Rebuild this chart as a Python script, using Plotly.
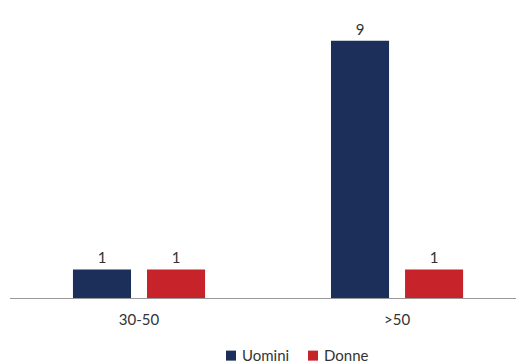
import plotly.graph_objects as go

categories = ["30-50", ">50"]
series_names = ["Uomini", "Donne"]
uomini = [1, 9]
donne = [1, 1]
colors = ["#1c2f5b", "#c6232a"]

font_family = "Lato, 'Open Sans', sans-serif"
text_color = "#333333"

fig = go.Figure()
for name, values, color in zip(series_names, [uomini, donne], colors):
    fig.add_trace(go.Bar(
        name=name, x=categories, y=values,
        marker=dict(color=color, line=dict(width=0)),
        text=[str(v) for v in values], textposition="outside",
        textfont=dict(size=15, color=text_color, family=font_family),
        cliponaxis=False, showlegend=False,
    ))

# Legend drawn below the axis: small colour square followed by the series name
legend_x = [0.4269, 0.5889]  # left edge of each square, paper fraction
for name, color, lx in zip(series_names, colors, legend_x):
    fig.add_shape(type="rect", xref="paper", yref="paper",
                  x0=lx, x1=lx + 10 / 506, y0=-0.219, y1=-0.184,
                  fillcolor=color, line=dict(width=0))
    fig.add_annotation(xref="paper", yref="paper", x=lx + 14 / 506, y=-0.201,
                       xanchor="left", yanchor="middle", text=name,
                       showarrow=False,
                       font=dict(size=15, color=text_color, family=font_family))

fig.update_layout(
    width=516, height=363,
    margin=dict(l=10, r=0, t=12, b=65, autoexpand=False),
    paper_bgcolor="white", plot_bgcolor="white",
    barmode="group", bargap=0.426, bargroupgap=0.216,
    font=dict(family=font_family, size=15, color=text_color),
    showlegend=False,
    xaxis=dict(range=[-0.5, 1.461], showgrid=False, showline=True,
               linecolor="#999999", linewidth=1, ticks="outside",
               ticklen=8, tickcolor="rgba(0,0,0,0)", zeroline=False,
               automargin=False,
               tickfont=dict(size=15, color=text_color)),
    yaxis=dict(range=[0, 10.01], showgrid=False, showticklabels=False,
               zeroline=False, showline=False, automargin=False),
)

fig.write_html("out.html")
